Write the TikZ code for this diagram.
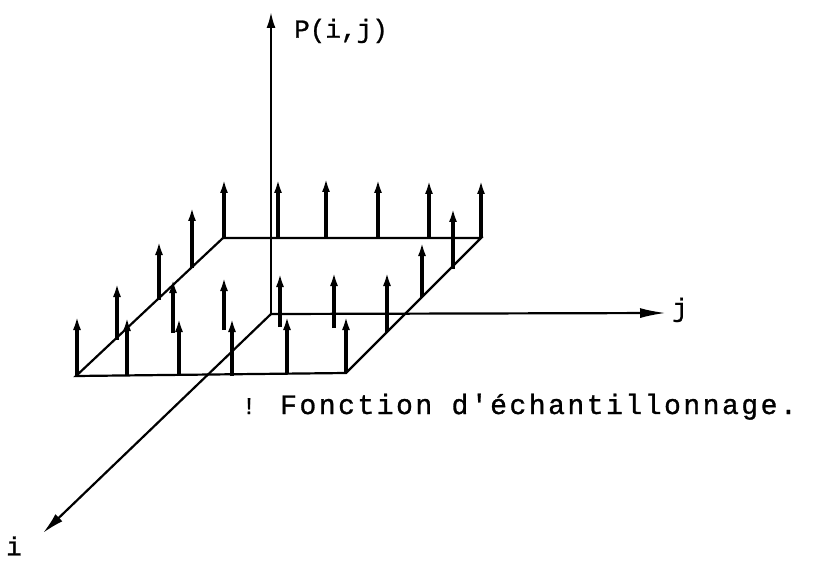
\documentclass[tikz,border=0pt]{standalone}
\usepackage{fontspec}
\setmainfont[FakeBold=1]{Liberation Mono}
\newfontfamily\capfont[LetterSpace=9,FakeBold=1]{Liberation Mono}
\usetikzlibrary{arrows.meta}
\begin{document}
\begin{tikzpicture}[x=1pt,y=-1pt,
  axis/.style={line width=2.2pt},
  edge/.style={line width=2.2pt, line join=miter},
  sample/.style={line width=3.2pt, -{Latex[length=14pt,width=8pt]}},
  lbl/.style={inner sep=0pt, font=\fontsize{26}{26}\selectfont}]
\useasboundingbox (0,0) rectangle (813,569);
% axes
\coordinate (O) at (271,314);
\coordinate (Ptop) at (271,12);
\coordinate (Jtip) at (666,313);
\coordinate (Itip) at (43,533);
% grid corners
\coordinate (A) at (76,376);
\coordinate (B) at (346,373);
\coordinate (C) at (481,238);
\coordinate (D) at (223,238);
\draw[edge] (A) -- (B) -- (C) -- (D) -- cycle;
\draw[axis,-{Latex[length=16pt,width=9pt]}] (O) -- (Ptop);
\draw[axis,-{Latex[length=26pt,width=10pt]}] (O) -- (Jtip);
\draw[axis,-{Latex[length=22pt,width=10pt]}] (O) -- (Itip);
% samples
\foreach \n/\bx/\by/\ty in {
  fa/77/376/316, fb/127/376/317, fc/179/376/318, fd/232/376/318, fe/287/373/316, ff/346/372/316,
  ra/117/340/283, rb/173/333/279, rc/224/330/277, rd/280/327/273, re/334/328/272, rf/387/332/272,
  sa/159/300/241, sb/422/297/242,
  ta/192/268/207, tb/453/269/208,
  ba/224/239/179, bb/278/239/179, bc/326/238/178, bd/378/237/179, be/429/237/180, bf/481/238/180}{
  \coordinate (\n b) at (\bx,\by);
  \coordinate (\n t) at (\bx,\ty);
  \draw[sample] (\n b) -- (\n t);
}
% labels
\node[lbl, anchor=west] (P) at (294,31) {P(i,j)};
\node[lbl] (jl) at (680,310) {j};
\node[lbl] (il) at (14,546) {i};
\node[inner sep=0pt, anchor=base] (mk) at (249,414) {\fontsize{24}{24}\selectfont !};
\node[inner sep=0pt, anchor=base west] (cap) at (280,414) {\fontsize{28}{28}\selectfont\capfont Fonction d'échantillonnage.};
\end{tikzpicture}
\end{document}
